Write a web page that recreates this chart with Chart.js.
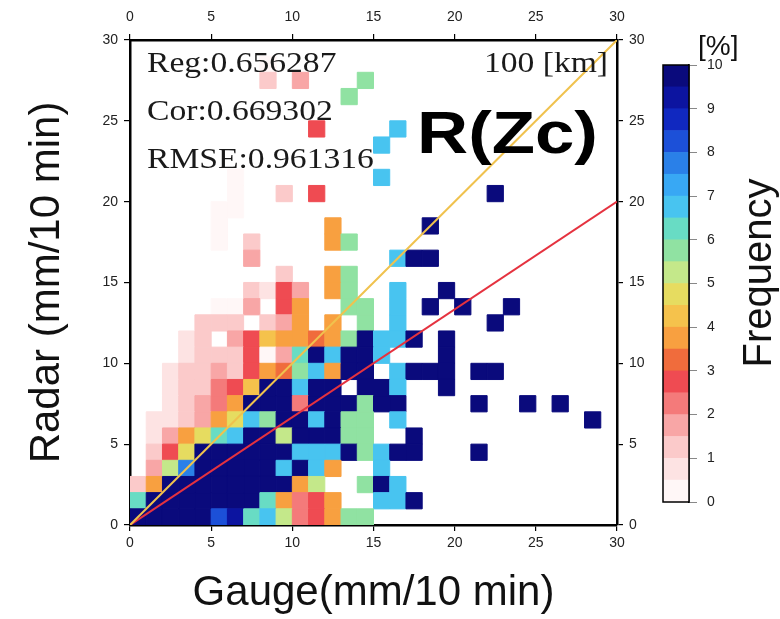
<!DOCTYPE html>
<html>
<head>
<meta charset="utf-8">
<script src="https://cdn.jsdelivr.net/npm/chart.js@4.4.1/dist/chart.umd.min.js"></script>
<style>
  html, body { margin: 0; padding: 0; background: #fff; }
  #wrap { position: relative; width: 780px; height: 619px; }
  #main { position: absolute; left: 0; top: 0; }
  #cbar { position: absolute; left: 640px; top: 0; }
</style>
</head>
<body>
<div id="wrap">
  <canvas id="main" width="780" height="619"></canvas>
  <canvas id="cbar" width="100" height="619"></canvas>
</div>
<script>
// 1 mm bins on both axes (bin centres)
const gaugeCenters = [0.5, 1.5, 2.5, 3.5, 4.5, 5.5, 6.5, 7.5, 8.5, 9.5, 10.5, 11.5, 12.5, 13.5, 14.5,
  15.5, 16.5, 17.5, 18.5, 19.5, 20.5, 21.5, 22.5, 23.5, 24.5, 25.5, 26.5, 27.5, 28.5, 29.5];
const radarCenters = [0.5, 1.5, 2.5, 3.5, 4.5, 5.5, 6.5, 7.5, 8.5, 9.5, 10.5, 11.5, 12.5, 13.5, 14.5,
  15.5, 16.5, 17.5, 18.5, 19.5, 20.5, 21.5, 22.5, 23.5, 24.5, 25.5, 26.5, 27.5, 28.5, 29.5];

// colour scale: 0..10 % in 0.5 steps
const levelEdges = [0, 0.5, 1, 1.5, 2, 2.5, 3, 3.5, 4, 4.5, 5, 5.5, 6, 6.5, 7, 7.5, 8, 8.5, 9, 9.5, 10];
const levelColors = ['#fff7f7', '#fde3e3', '#fbcaca', '#f8a6a6', '#f47a7a', '#ef4b52', '#f06c3c', '#f8a040',
  '#f5c24c', '#e6dc60', '#c4e88a', '#90e2a2', '#68dcc4', '#48c4f0', '#38a8f4', '#2a80e8', '#1c50d8',
  '#1028c0', '#0c14a0', '#0a0a7c'];

// frequency [%], rows = radar bin from 29 (top) down to 0, columns = gauge bin 0..29
const freqRows = [
  [0,0,0,0,0,0,0,0,0,0, 0,0,0,0,0,0,0,0,0,0, 0,0,0,0,0,0,0,0,0,0],
  [0,0,0,0,0,0,0,0,0.4,0, 0,0,0,0,0,0,0,0,0,0, 0,0,0,0,0,0,0,0,0,0],
  [0,0,0,0,0,0,0,0,1.0,0, 1.6,0,0,0,5.6,0,0,0,0,0, 0,0,0,0,0,0,0,0,0,0],
  [0,0,0,0,0,0,0,0,0,0, 0,0,0,5.6,0,0,0,0,0,0, 0,0,0,0,0,0,0,0,0,0],
  [0,0,0,0,0,0,0,0,0,0, 0,0,0,0,0,0,0,0,0,0, 0,0,0,0,0,0,0,0,0,0],
  [0,0,0,0,0,0,0,0,0,0, 0,2.6,0,0,0,0,6.8,0,0,0, 0,0,0,0,0,0,0,0,0,0],
  [0,0,0,0,0,0,0,0,0,0, 0,0,0,0,0,6.8,0,0,0,0, 0,0,0,0,0,0,0,0,0,0],
  [0,0,0,0,0,0,0,0,0,0, 0,0,0,0,0,0,0,0,0,0, 0,0,0,0,0,0,0,0,0,0],
  [0,0,0,0,0,0,0.4,0,0,0, 0,0,0,0,0,6.8,0,0,0,0, 0,0,0,0,0,0,0,0,0,0],
  [0,0,0,0,0,0,0.4,0,0,1.2, 0,2.6,0,0,0,0,0,0,0,0, 0,0,10,0,0,0,0,0,0,0],
  [0,0,0,0,0,0.3,0.4,0,0,0, 0,0,0,0,0,0,0,0,0,0, 0,0,0,0,0,0,0,0,0,0],
  [0,0,0,0,0,0.4,0,0,0,0, 0,0,3.7,0,0,0,0,0,10,0, 0,0,0,0,0,0,0,0,0,0],
  [0,0,0,0,0,0.4,0,1.0,0,0, 0,0,3.7,5.6,0,0,0,0,0,0, 0,0,0,0,0,0,0,0,0,0],
  [0,0,0,0,0,0,0,1.6,0,0, 0,0,0,0,0,0,6.8,10,10,0, 0,0,0,0,0,0,0,0,0,0],
  [0,0,0,0,0,0,0,0,0,1.0, 0,0,3.7,5.6,0,0,0,0,0,0, 0,0,0,0,0,0,0,0,0,0],
  [0,0,0,0,0,0,0,1.0,0.6,2.6, 1.8,0,3.7,5.6,0,0,6.8,0,0,10, 0,0,0,0,0,0,0,0,0,0],
  [0,0,0,0,0,0.4,0.4,1.6,0,2.6, 3.7,0,0,5.6,5.6,0,6.8,0,10,0, 10,0,0,10,0,0,0,0,0,0],
  [0,0,0,0,1.0,1.2,1.2,0,1.4,1.8, 3.7,0,3.7,0,5.6,0,6.8,0,0,0, 0,0,10,0,0,0,0,0,0,0],
  [0,0,0,0.8,1.0,0,1.6,2.6,4.4,3.7, 3.7,3.2,3.7,5.6,10,6.8,6.8,10,0,10, 0,0,0,0,0,0,0,0,0,0],
  [0,0,0,0.6,1.2,1.4,1.0,2.6,0.3,1.6, 6.2,10,6.8,10,10,6.8,0,0,0,10, 0,0,0,0,0,0,0,0,0,0],
  [0,0,0.8,1.0,1.2,1.8,1.2,2.6,3.7,3.2, 5.6,6.8,3.7,10,10,0,6.8,10,10,10, 0,10,10,0,0,0,0,0,0,0],
  [0,0,0.8,1.0,1.4,2.2,2.6,4.4,10,10, 6.8,10,10,0,10,10,6.8,0,0,10, 0,0,0,0,0,0,0,0,0,0],
  [0,0,0.8,1.0,1.6,2.2,3.7,10,10,10, 2.2,10,10,10,5.6,10,10,0,0,0, 0,10,0,0,10,0,10,0,0,0],
  [0,0.5,0.9,1.0,1.6,3.7,4.8,6.8,5.6,10, 10,6.8,10,5.6,5.6,0,6.8,0,0,0, 0,0,0,0,0,0,0,0,10,0],
  [0,0.8,1.6,3.7,4.6,6.2,6.8,10,10,5.2, 10,10,10,5.6,5.6,0,0,10,0,0, 0,0,0,0,0,0,0,0,0,0],
  [0,1.4,2.6,4.6,10,10,10,10,10,10, 6.8,6.8,6.8,10,5.6,6.8,10,10,0,0, 0,10,0,0,0,0,0,0,0,0],
  [0,1.6,5.0,7.5,10,10,10,10,10,6.8, 10,6.8,3.7,0,0,6.8,0,0,0,0, 0,0,0,0,0,0,0,0,0,0],
  [1.0,3.7,10,10,10,10,10,10,10,10, 3.7,5.0,0,0,5.6,10,6.8,0,0,0, 0,0,0,0,0,0,0,0,0,0],
  [6.2,10,10,10,10,10,10,10,6.2,3.7, 2.0,2.6,3.7,0,0,6.8,6.8,10,0,0, 0,0,0,0,0,0,0,0,0,0],
  [10,10,10,10,10,8.2,9.3,6.2,6.8,5.0, 2.0,2.6,3.7,5.6,5.6,0,0,0,0,0, 0,0,0,0,0,0,0,0,0,0],
];

const oneToOne = [{ x: 0, y: 0 }, { x: 30, y: 30 }];
const regLine = [{ x: 0, y: 0 }, { x: 30, y: 20 }];
const statTexts = ['Reg:0.656287', 'Cor:0.669302', 'RMSE:0.961316'];

Chart.defaults.font.family = '"Liberation Sans", Arial, sans-serif';

const cells = [];
freqRows.forEach((row, r) => {
  const y = radarCenters[freqRows.length - 1 - r];
  row.forEach((v, c) => {
    if (v > 0) cells.push({ x: gaugeCenters[c], y, v });
  });
});

const colorOf = (v) => {
  let k = levelEdges.findIndex((e) => v < e) - 1;
  if (k < 0) k = levelColors.length - 1;
  return levelColors[Math.min(k, levelColors.length - 1)];
};

// square of one bin: rect point side = radius * sqrt(2)
const cellRadius = (ctx) => {
  const x = ctx.chart.scales.x;
  return Math.abs(x.getPixelForValue(1) - x.getPixelForValue(0)) / Math.SQRT2;
};

function frameAxis(position, size, pad, extra) {
  const horiz = position === 'top' || position === 'bottom';
  return Object.assign({
    type: 'linear',
    position,
    axis: horiz ? 'x' : 'y',
    min: 0,
    max: 30,
    ticks: { stepSize: 5, color: '#222', font: { size: 14 }, padding: pad, maxRotation: 0, autoSkip: false },
    grid: { display: true, drawOnChartArea: false, drawTicks: true, tickLength: 6, color: '#000', lineWidth: 1.2 },
    border: { display: true, color: '#000', width: 2.5 },
    afterFit: (s) => { if (horiz) s.height = size; else s.width = size; },
  }, extra || {});
}

const textPlugin = {
  id: 'figText',
  afterDraw(chart) {
    const ctx = chart.ctx;
    ctx.save();
    ctx.fillStyle = '#1a1a1a';
    ctx.textBaseline = 'alphabetic';
    ctx.font = '30px "Liberation Serif"';
    statTexts.forEach((t, k) => {
      ctx.save();
      ctx.translate(147, 72 + 48 * k);
      ctx.scale(1.12, 1);
      ctx.fillText(t, 0, 0);
      ctx.restore();
    });
    ctx.save();
    ctx.translate(608, 72);
    ctx.scale(1.12, 1);
    ctx.textAlign = 'right';
    ctx.fillText('100 [km]', 0, 0);
    ctx.restore();

    ctx.fillStyle = '#000';
    ctx.font = 'bold 60px "Liberation Sans"';
    ctx.save();
    ctx.translate(417, 153);
    ctx.scale(1.18, 1);
    ctx.fillText('R(Zc)', 0, 0);
    ctx.restore();

    ctx.fillStyle = '#111';
    ctx.font = '28px "Liberation Sans"';
    ctx.fillText('[%]', 698, 55);
    ctx.font = '40px "Liberation Sans"';
    ctx.translate(771, 273);
    ctx.rotate(-Math.PI / 2);
    ctx.textAlign = 'center';
    ctx.fillText('Frequency', 0, 0);
    ctx.restore();
  },
};

new Chart(document.getElementById('main'), {
  type: 'scatter',
  data: {
    datasets: [
      { data: oneToOne, showLine: true, borderColor: '#f0c24e', borderWidth: 2, pointRadius: 0, order: 0 },
      { data: regLine, showLine: true, borderColor: '#e5323f', borderWidth: 2, pointRadius: 0, order: 0 },
      {
        data: cells,
        pointStyle: 'rect',
        pointRadius: cellRadius,
        backgroundColor: (c) => colorOf(c.raw.v),
        borderColor: (c) => colorOf(c.raw.v),
        borderWidth: 1,
        order: 1,
      },
    ],
  },
  options: {
    responsive: false,
    animation: false,
    events: [],
    layout: { padding: 0 },
    plugins: { legend: { display: false }, tooltip: { enabled: false } },
    scales: {
      x: frameAxis('bottom', 94, 4, {
        title: { display: true, text: 'Gauge(mm/10 min)', color: '#111', font: { size: 42 }, padding: { top: 0, bottom: 0 } },
      }),
      x2: frameAxis('top', 40, 8),
      y: frameAxis('left', 130, 6, {
        title: { display: true, text: 'Radar (mm/10 min)', color: '#111', font: { size: 42 }, padding: { top: 22, bottom: 0 } },
      }),
      y2: frameAxis('right', 163, 6),
    },
  },
  plugins: [textPlugin],
});

// colour bar
new Chart(document.getElementById('cbar'), {
  type: 'bar',
  data: {
    labels: [''],
    datasets: levelColors.map((c, k) => ({
      data: [[levelEdges[k], levelEdges[k + 1]]],
      backgroundColor: c,
      borderWidth: 0,
      grouped: false,
      barPercentage: 1,
      categoryPercentage: 1,
    })),
  },
  options: {
    responsive: false,
    animation: false,
    events: [],
    layout: { padding: { left: 23, top: 65, bottom: 117, right: 0 } },
    plugins: { legend: { display: false }, tooltip: { enabled: false } },
    scales: {
      x: { display: false },
      y: {
        position: 'right',
        min: 0,
        max: 10,
        ticks: { stepSize: 1, color: '#222', font: { size: 14 }, padding: 10 },
        grid: { drawOnChartArea: false, tickLength: 8, color: '#888' },
        border: { display: true, color: '#000', width: 1.5 },
        afterFit: (s) => { s.width = 51; },
      },
    },
  },
  plugins: [{
    id: 'barFrame',
    afterDraw(c) {
      const { ctx, chartArea: a } = c;
      ctx.save();
      ctx.strokeStyle = '#000';
      ctx.lineWidth = 1.5;
      ctx.strokeRect(a.left, a.top, a.right - a.left, a.bottom - a.top);
      ctx.restore();
    },
  }],
});
</script>
</body>
</html>
